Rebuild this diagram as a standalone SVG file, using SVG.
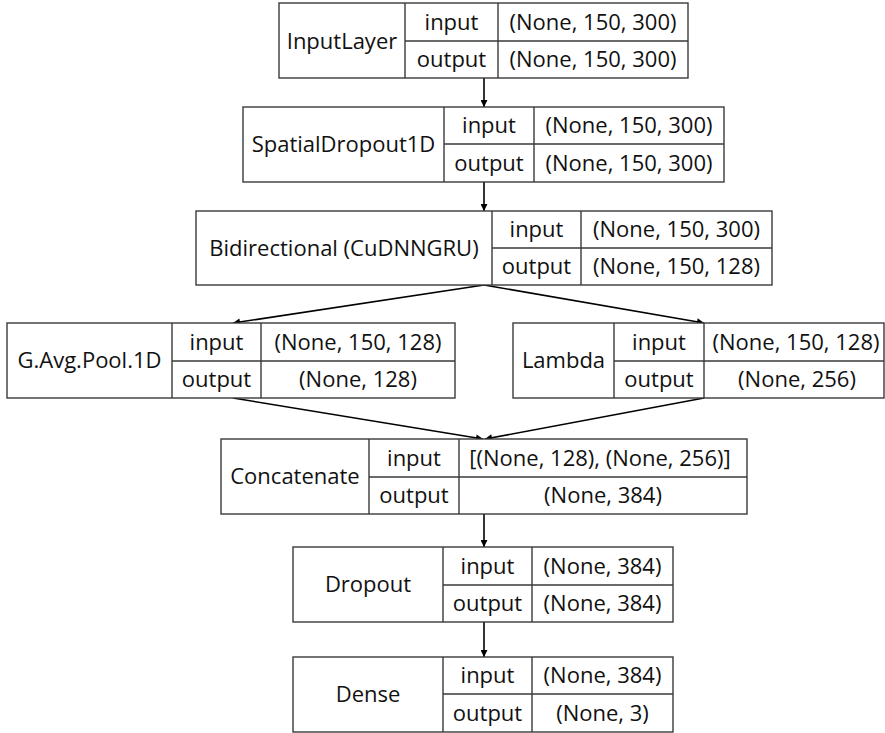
<svg xmlns="http://www.w3.org/2000/svg" width="885" height="733" viewBox="0 0 885 733">
<style>
.bg{fill:#fff}
.box{fill:#fff;stroke:#3a3a3a;stroke-width:1.4}
.ln{stroke:#3a3a3a;stroke-width:1.4;fill:none}
.t{font-family:"Open Sans","Noto Sans","Liberation Sans",sans-serif;font-size:22px;fill:#111;text-anchor:middle}
.c{stroke:#000;stroke-width:1.6;fill:none;marker-end:url(#ah)}
</style>
<defs>
<marker id="ah" viewBox="0 0 10 10" refX="10" refY="5" markerWidth="10" markerHeight="7" markerUnits="userSpaceOnUse" orient="auto">
<path d="M0,0 L10,5 L0,10 z" fill="#000"/>
</marker>
</defs>
<rect class="bg" x="0" y="0" width="885" height="733"/>

<g id="connectors">
<line class="c" x1="484" y1="78" x2="484" y2="107"/>
<line class="c" x1="484" y1="182" x2="484" y2="211"/>
<line class="c" x1="484" y1="285" x2="233" y2="323"/>
<line class="c" x1="484" y1="285" x2="704" y2="323"/>
<line class="c" x1="233" y1="398" x2="483" y2="439"/>
<line class="c" x1="704" y1="398" x2="485" y2="439"/>
<line class="c" x1="484" y1="514" x2="484" y2="547"/>
<line class="c" x1="484" y1="622" x2="484" y2="657"/>
</g>

<g id="inputlayer">
<rect class="box" x="279" y="3" width="409" height="75"/>
<path class="ln" d="M405,3 V78 M498,3 V78 M405,41 H688"/>
<text class="t" x="342" y="48.5">InputLayer</text>
<text class="t" x="451.5" y="29.5">input</text>
<text class="t" x="451.5" y="67">output</text>
<text class="t" x="593" y="29.5">(None, 150, 300)</text>
<text class="t" x="593" y="67">(None, 150, 300)</text>
</g>

<g id="spatialdropout1d">
<rect class="box" x="243" y="107" width="481" height="75"/>
<path class="ln" d="M444,107 V182 M534,107 V182 M444,144 H724"/>
<text class="t" x="343.5" y="152">SpatialDropout1D</text>
<text class="t" x="489" y="133">input</text>
<text class="t" x="489" y="170.5">output</text>
<text class="t" x="629" y="133">(None, 150, 300)</text>
<text class="t" x="629" y="170.5">(None, 150, 300)</text>
</g>

<g id="bidirectional">
<rect class="box" x="196" y="211" width="576" height="74"/>
<path class="ln" d="M492,211 V285 M581,211 V285 M492,248 H772"/>
<text class="t" x="344" y="255.5">Bidirectional (CuDNNGRU)</text>
<text class="t" x="536.5" y="237">input</text>
<text class="t" x="536.5" y="274">output</text>
<text class="t" x="676.5" y="237">(None, 150, 300)</text>
<text class="t" x="676.5" y="274">(None, 150, 128)</text>
</g>

<g id="gavgpool1d">
<rect class="box" x="7" y="323" width="448" height="75"/>
<path class="ln" d="M172,323 V398 M261,323 V398 M172,361 H455"/>
<text class="t" x="89.5" y="368">G.Avg.Pool.1D</text>
<text class="t" x="216.5" y="349.5">input</text>
<text class="t" x="216.5" y="387">output</text>
<text class="t" x="358" y="349.5">(None, 150, 128)</text>
<text class="t" x="358" y="387">(None, 128)</text>
</g>

<g id="lambda">
<rect class="box" x="513" y="323" width="371" height="75"/>
<path class="ln" d="M614,323 V398 M704,323 V398 M614,361 H884"/>
<text class="t" x="563.5" y="368">Lambda</text>
<text class="t" x="659" y="349.5">input</text>
<text class="t" x="659" y="387">output</text>
<text class="t" x="796" y="349.5">(None, 150, 128)</text>
<text class="t" x="797" y="387">(None, 256)</text>
</g>

<g id="concatenate">
<rect class="box" x="221" y="439" width="526" height="75"/>
<path class="ln" d="M369,439 V514 M459,439 V514 M369,477 H747"/>
<text class="t" x="295" y="484">Concatenate</text>
<text class="t" x="414" y="465.5">input</text>
<text class="t" x="414" y="503">output</text>
<text class="t" x="600" y="465.5">[(None, 128), (None, 256)]</text>
<text class="t" x="603" y="503">(None, 384)</text>
</g>

<g id="dropout">
<rect class="box" x="293" y="547" width="380" height="75"/>
<path class="ln" d="M443,547 V622 M532,547 V622 M443,585 H673"/>
<text class="t" x="368" y="592">Dropout</text>
<text class="t" x="487.5" y="573.5">input</text>
<text class="t" x="487.5" y="611">output</text>
<text class="t" x="602.5" y="573.5">(None, 384)</text>
<text class="t" x="602.5" y="611">(None, 384)</text>
</g>

<g id="dense">
<rect class="box" x="293" y="657" width="380" height="75"/>
<path class="ln" d="M443,657 V732 M532,657 V732 M443,694 H673"/>
<text class="t" x="368" y="702">Dense</text>
<text class="t" x="487.5" y="683">input</text>
<text class="t" x="487.5" y="720.5">output</text>
<text class="t" x="602.5" y="683">(None, 384)</text>
<text class="t" x="602.5" y="720.5">(None, 3)</text>
</g>
</svg>
